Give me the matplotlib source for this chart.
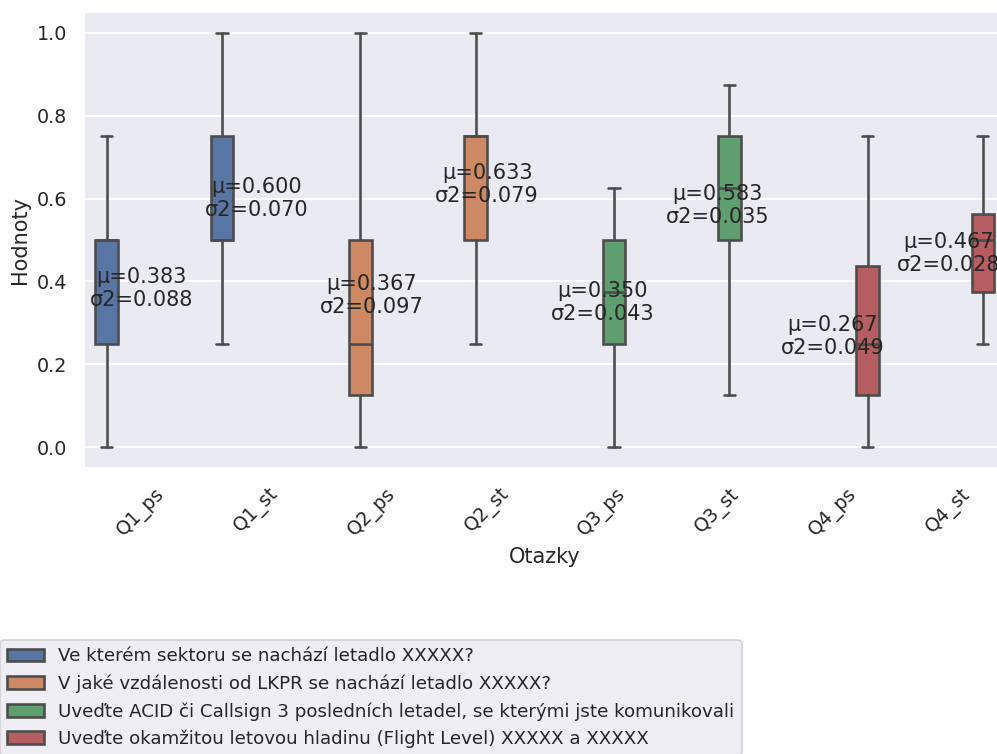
import colorsys
import matplotlib
matplotlib.use("Agg")
import matplotlib.pyplot as plt
from matplotlib.patches import Patch
import seaborn as sns

# Otázky a skupiny (hue)
questions = ['Q1_ps', 'Q1_st', 'Q2_ps', 'Q2_st', 'Q3_ps', 'Q3_st', 'Q4_ps', 'Q4_st']
group_of_question = [0, 0, 1, 1, 2, 2, 3, 3]
group_labels = [
    'Ve kterém sektoru se nachází letadlo XXXXX?',
    'V jaké vzdálenosti od LKPR se nachází letadlo XXXXX?',
    'Uveďte ACID či Callsign 3 posledních letadel, se kterými jste komunikovali',
    'Uveďte okamžitou letovou hladinu (Flight Level) XXXXX a XXXXX',
]

# Statistiky boxplotu
whisker_lo = [0.0, 0.25, 0.0, 0.25, 0.0, 0.125, 0.0, 0.25]
q1 = [0.25, 0.5, 0.125, 0.5, 0.25, 0.5, 0.125, 0.375]
medians = [0.5, 0.5, 0.25, 0.75, 0.375, 0.625, 0.25, 0.5]
q3 = [0.5, 0.75, 0.5, 0.75, 0.5, 0.75, 0.4375, 0.5625]
whisker_hi = [0.75, 1.0, 1.0, 1.0, 0.625, 0.875, 0.75, 0.75]
means = [0.383, 0.600, 0.367, 0.633, 0.350, 0.583, 0.267, 0.467]
variances = [0.088, 0.070, 0.097, 0.079, 0.043, 0.035, 0.049, 0.028]

sns.set_theme(style='darkgrid')

palette = [sns.desaturate(c, 0.75) for c in sns.color_palette('deep', 4)]
lum = min(colorsys.rgb_to_hls(*c)[1] for c in palette) * 0.6
gray = (lum, lum, lum)

fig = plt.figure(figsize=(997 / 125, 754 / 125), dpi=125)
ax = fig.add_axes([0.0839, 0.3793, 0.925, 0.6048])

n_groups = len(group_labels)
box_w = 0.8 / n_groups
for i, q in enumerate(questions):
    g = group_of_question[i]
    pos = i - 0.4 + box_w * (g + 0.5)
    stats = [{'whislo': whisker_lo[i], 'q1': q1[i], 'med': medians[i],
              'q3': q3[i], 'whishi': whisker_hi[i], 'fliers': []}]
    ax.bxp(stats, positions=[pos], widths=box_w * 0.98, patch_artist=True,
           showfliers=False, manage_ticks=False,
           boxprops=dict(facecolor=palette[g], edgecolor=gray, linewidth=1.5),
           whiskerprops=dict(color=gray, linewidth=1.5),
           capprops=dict(color=gray, linewidth=1.5),
           medianprops=dict(color=gray, linewidth=1.5))

# Popisky průměru a rozptylu
for i, (m, v) in enumerate(zip(means, variances)):
    ax.text(i, m, f'μ={m:.3f}\nσ2={v:.3f}', ha='center', va='center',
            fontsize=12, color='#262626')

ax.set_xlim(-0.5, len(questions) - 0.5)
ax.set_xticks(range(len(questions)))
ax.set_xticklabels(questions, rotation=45)
ax.xaxis.grid(False)
ax.set_xlabel('Otazky')
ax.set_ylabel('Hodnoty')

handles = [Patch(facecolor=palette[k], edgecolor=gray, linewidth=1.5)
           for k in range(n_groups)]
fig.legend(handles, group_labels, loc='upper left', fontsize=10.5,
           bbox_to_anchor=(0.0, 1 - 640 / 754), borderaxespad=0)

fig.savefig('out.png', dpi=125)
